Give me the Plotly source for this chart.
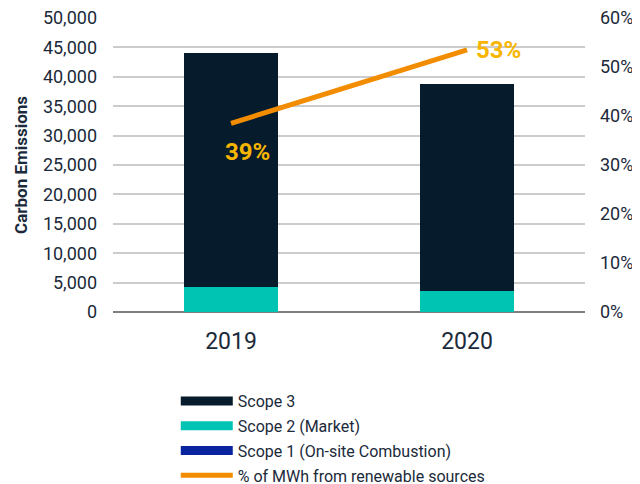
import plotly.graph_objects as go

years = ["2019", "2020"]
scope1 = [15, 12]
scope2 = [4300, 3570]
scope3 = [39700, 35210]
renewable_pct = [0.385, 0.535]
pct_labels = ["39%", "53%"]

navy = "#061B2B"
teal = "#00C4B3"
blue = "#0A239E"
orange = "#F28C00"
gold = "#F7B500"
font_color = "#1B2A3A"

fig = go.Figure()
fig.add_trace(go.Bar(x=years, y=scope1, name="Scope 1 (On-site Combustion)",
                     marker=dict(color=blue, line=dict(width=0)), showlegend=False))
fig.add_trace(go.Bar(x=years, y=scope2, name="Scope 2 (Market)",
                     marker=dict(color=teal, line=dict(width=0)), showlegend=False))
fig.add_trace(go.Bar(x=years, y=scope3, name="Scope 3",
                     marker=dict(color=navy, line=dict(width=0)), showlegend=False))
fig.add_trace(go.Scatter(x=years, y=renewable_pct, name="% of MWh from renewable sources",
                         mode="lines", line=dict(color=orange, width=5),
                         yaxis="y2", showlegend=False))

# legend entries (wide swatches like the original)
legend_items = [("Scope 3", navy, 9), ("Scope 2 (Market)", teal, 9),
                ("Scope 1 (On-site Combustion)", blue, 9),
                ("% of MWh from renewable sources", orange, 5)]
for i, (nm, col, w) in enumerate(legend_items):
    fig.add_trace(go.Scatter(x=[None], y=[None], mode="lines", name=nm,
                             line=dict(color=col, width=w), legendgroup=str(i),
                             legendrank=i + 1, showlegend=True, hoverinfo="skip"))

shifts = [(16, -29), (31, 0)]
for i, (lab, (dx, dy)) in enumerate(zip(pct_labels, shifts)):
    fig.add_annotation(x=i, y=renewable_pct[i], xref="x", yref="y2", text=lab,
                       showarrow=False, xshift=dx, yshift=dy,
                       font=dict(family="Roboto", size=24, color=gold, weight="bold"))

fig.update_layout(
    width=632, height=476,
    margin=dict(l=105, r=55, t=10, b=172, autoexpand=False),
    paper_bgcolor="white", plot_bgcolor="white",
    barmode="stack", bargap=0.6,
    font=dict(family="Roboto", color=font_color),
    xaxis=dict(type="category", tickfont=dict(size=23, color=font_color), showgrid=False,
               showline=False, ticks="", ticklabelstandoff=13, automargin=False),
    yaxis=dict(range=[0, 50000], dtick=5000, tickformat=",",
               tickfont=dict(size=18, color=font_color),
               gridcolor="#CCCCCC", gridwidth=1.5,
               zeroline=True, zerolinecolor="#7F7F7F", zerolinewidth=2,
               title=dict(text="<b>Carbon Emissions</b>", font=dict(size=17, color=font_color),
                          standoff=10),
               ticklabelstandoff=15, automargin=False, ticklabeloverflow="allow"),
    yaxis2=dict(range=[0, 0.6], dtick=0.1, tickformat=".0%", overlaying="y", side="right",
                showgrid=False, zeroline=False, automargin=False, ticklabeloverflow="allow",
                tickfont=dict(size=18, color=font_color), ticklabelstandoff=14),
    legend=dict(orientation="v", x=0.133, xanchor="left", y=-0.245, yanchor="top",
                font=dict(size=16, color=font_color), itemwidth=52,
                traceorder="grouped", tracegroupgap=1, bgcolor="rgba(0,0,0,0)"),
    showlegend=True,
)

fig.write_html("out.html")
